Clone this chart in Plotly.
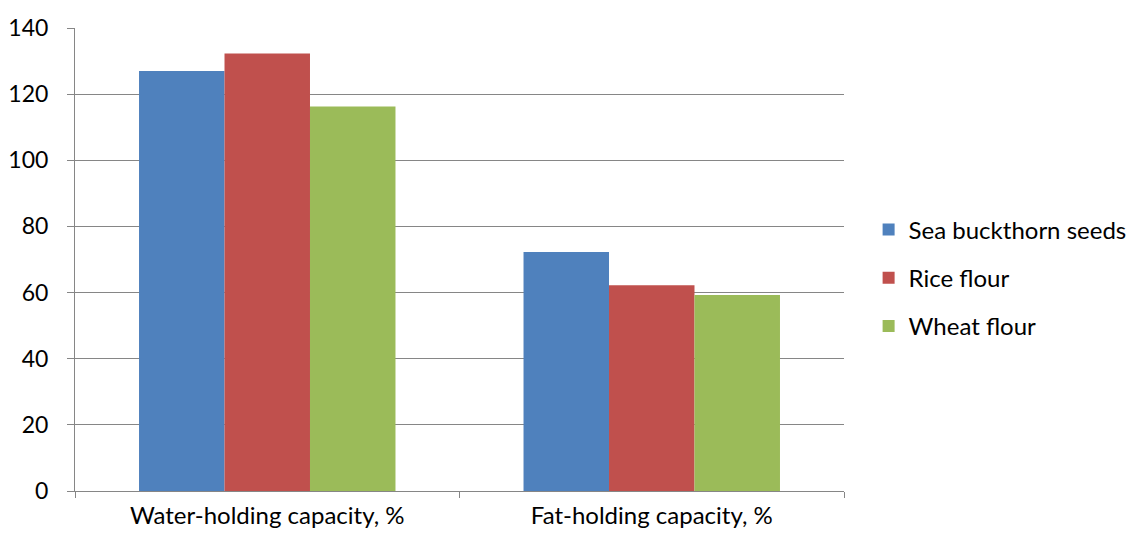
import plotly.graph_objects as go

categories = ["Water-holding capacity, %", "Fat-holding capacity, %"]
sea_buckthorn = [127.0, 72.3]
rice_flour = [132.3, 62.2]
wheat_flour = [116.3, 59.3]

series = [
    ("Sea buckthorn seeds", sea_buckthorn, "#4F81BD"),
    ("Rice flour", rice_flour, "#C0504D"),
    ("Wheat flour", wheat_flour, "#9BBB59"),
]

font_family = "Lato, 'Open Sans', sans-serif"

fig = go.Figure()
for name, vals, color in series:
    fig.add_trace(go.Bar(
        name=name, x=categories, y=vals, legendgroup=name,
        marker=dict(color=color, line=dict(width=0)),
    ))

fig.update_layout(
    width=1132, height=537,
    margin=dict(l=75, r=288, t=28, b=46, autoexpand=False),
    paper_bgcolor="white", plot_bgcolor="white",
    barmode="group", bargap=0.333, bargroupgap=0,
    font=dict(family=font_family, size=23, color="#000000"),
    legend=dict(
        x=1.032, y=0.46, xanchor="left", yanchor="middle",
        font=dict(size=24), traceorder="grouped", tracegroupgap=14,
    ),
    showlegend=True,
)

fig.update_xaxes(
    type="category", automargin=False,
    showline=True, linecolor="#868686", linewidth=1,
    ticks="outside", tickson="boundaries", ticklen=6, tickcolor="#868686",
    showgrid=False, tickfont=dict(size=24), ticklabelstandoff=3,
)
fig.update_yaxes(
    range=[0, 140], dtick=20, automargin=False,
    showline=True, linecolor="#868686", linewidth=1,
    ticks="outside", ticklen=7, tickcolor="#868686",
    showgrid=True, gridcolor="#868686", gridwidth=1,
    zeroline=False, tickfont=dict(size=23), ticklabelstandoff=14,
)

fig.write_html("out.html")
